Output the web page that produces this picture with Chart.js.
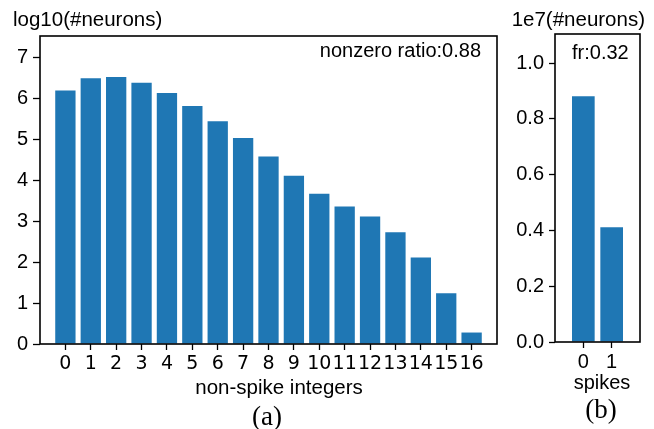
<!DOCTYPE html>
<html>
<head>
<meta charset="utf-8">
<script src="https://cdn.jsdelivr.net/npm/chart.js@4.4.1/dist/chart.umd.min.js"></script>
<style>
  html, body { margin: 0; padding: 0; background: #fff; }
  #wrap { position: relative; width: 654px; height: 429px; overflow: hidden; background: #fff; }
  canvas { position: absolute; top: 0; }
  #cA { left: 0; }
  #cB { left: 500px; }
</style>
</head>
<body>
<div id="wrap">
  <canvas id="cA" width="520" height="429"></canvas>
  <canvas id="cB" width="154" height="429"></canvas>
</div>
<script>
// ---- data ----
const nonSpikeIntegers = [0, 1, 2, 3, 4, 5, 6, 7, 8, 9, 10, 11, 12, 13, 14, 15, 16];
const log10Neurons = [6.19, 6.49, 6.52, 6.38, 6.13, 5.81, 5.44, 5.03, 4.58, 4.11, 3.67, 3.36, 3.11, 2.73, 2.11, 1.24, 0.28];
const spikeValues = [0, 1];
const spikeNeurons1e7 = [0.881, 0.411];
const yTicksA = [0, 1, 2, 3, 4, 5, 6, 7];
const yTicksB = [0.0, 0.2, 0.4, 0.6, 0.8, 1.0];

const BLUE = '#1f77b4';
const SANS = "'Liberation Sans', Arial, sans-serif";
const DEJAVU = "'DejaVu Sans', sans-serif";
const SERIF = "'Liberation Serif', 'Times New Roman', serif";

function framePlugin(texts) {
  return {
    id: 'frameText',
    afterDraw(chart) {
      const { ctx, chartArea: a } = chart;
      ctx.save();
      ctx.strokeStyle = '#000';
      ctx.lineWidth = 1.6;
      ctx.strokeRect(a.left, a.top, a.right - a.left, a.bottom - a.top);
      ctx.fillStyle = '#000';
      ctx.textBaseline = 'alphabetic';
      for (const t of texts) {
        ctx.font = t.font;
        ctx.textAlign = t.align;
        ctx.fillText(t.text, t.x, t.y);
      }
      ctx.restore();
    }
  };
}

function keepTicks(list) {
  return function (scale) {
    scale.ticks = scale.ticks.filter(t => list.some(v => Math.abs(v - t.value) < 1e-9));
  };
}

// ---- chart (a) ----
new Chart(document.getElementById('cA'), {
  type: 'bar',
  data: {
    datasets: [{
      data: nonSpikeIntegers.map((c, i) => ({ x: c, y: log10Neurons[i] })),
      backgroundColor: BLUE,
      borderWidth: 0,
      barPercentage: 1.0,
      categoryPercentage: 0.8
    }]
  },
  options: {
    responsive: false,
    animation: false,
    devicePixelRatio: 1,
    layout: { padding: { top: 36, right: 23, bottom: 0, left: 0 } },
    plugins: { legend: { display: false }, tooltip: { enabled: false } },
    scales: {
      x: {
        type: 'linear',
        min: -1, max: 17,
        offset: false,
        grid: { offset: false, drawOnChartArea: false, drawTicks: true, tickLength: 6, color: '#000', tickWidth: 1.3 },
        border: { display: false },
        afterBuildTicks: keepTicks(nonSpikeIntegers),
        afterFit(s) { s.height = 85; },
        ticks: {
          stepSize: 1, autoSkip: false, maxRotation: 0, padding: 3,
          color: '#000', font: { family: DEJAVU, size: 19 },
          callback: v => String(v)
        }
      },
      y: {
        type: 'linear',
        min: 0, max: 7.52,
        grid: { drawOnChartArea: false, drawTicks: true, tickLength: 7, color: '#000', tickWidth: 1.3 },
        border: { display: false },
        afterBuildTicks: keepTicks(yTicksA),
        afterFit(s) { s.width = 40; },
        ticks: {
          stepSize: 1, includeBounds: false, padding: 5,
          color: '#000', font: { family: SANS, size: 20 },
          callback: v => String(v)
        }
      }
    }
  },
  plugins: [framePlugin([
    { text: 'log10(#neurons)', font: '20.5px ' + SANS, align: 'left', x: 13, y: 26 },
    { text: 'nonzero ratio:0.88', font: '20px ' + SANS, align: 'right', x: 481, y: 57 },
    { text: 'non-spike integers', font: '20.5px ' + SANS, align: 'center', x: 279, y: 394 },
    { text: '(a)', font: '27px ' + SERIF, align: 'center', x: 267, y: 425 }
  ])]
});

// ---- chart (b) ----
new Chart(document.getElementById('cB'), {
  type: 'bar',
  data: {
    datasets: [{
      data: spikeValues.map((c, i) => ({ x: c, y: spikeNeurons1e7[i] })),
      backgroundColor: BLUE,
      borderWidth: 0,
      barPercentage: 1.0,
      categoryPercentage: 0.8
    }]
  },
  options: {
    responsive: false,
    animation: false,
    devicePixelRatio: 1,
    layout: { padding: { top: 34, right: 14, bottom: 0, left: 0 } },
    plugins: { legend: { display: false }, tooltip: { enabled: false } },
    scales: {
      x: {
        type: 'linear',
        min: -1, max: 2,
        offset: false,
        grid: { offset: false, drawOnChartArea: false, drawTicks: true, tickLength: 6, color: '#000', tickWidth: 1.3 },
        border: { display: false },
        afterBuildTicks: keepTicks(spikeValues),
        afterFit(s) { s.height = 87; },
        ticks: {
          stepSize: 1, autoSkip: false, maxRotation: 0, padding: 2,
          color: '#000', font: { family: SANS, size: 20 },
          callback: v => String(v)
        }
      },
      y: {
        type: 'linear',
        min: 0, max: 1.104,
        grid: { drawOnChartArea: false, drawTicks: true, tickLength: 6, color: '#000', tickWidth: 1.3 },
        border: { display: false },
        afterBuildTicks: keepTicks(yTicksB),
        afterFit(s) { s.width = 55; },
        ticks: {
          stepSize: 0.2, includeBounds: false, padding: 5,
          color: '#000', font: { family: SANS, size: 20 },
          callback: v => Number(v).toFixed(1)
        }
      }
    }
  },
  plugins: [framePlugin([
    { text: '1e7(#neurons)', font: '20.5px ' + SANS, align: 'right', x: 145, y: 26 },
    { text: 'fr:0.32', font: '20px ' + SANS, align: 'left', x: 72, y: 59 },
    { text: 'spikes', font: '20px ' + SANS, align: 'center', x: 102, y: 389 },
    { text: '(b)', font: '27px ' + SERIF, align: 'center', x: 101, y: 418 }
  ])]
});
</script>
</body>
</html>
